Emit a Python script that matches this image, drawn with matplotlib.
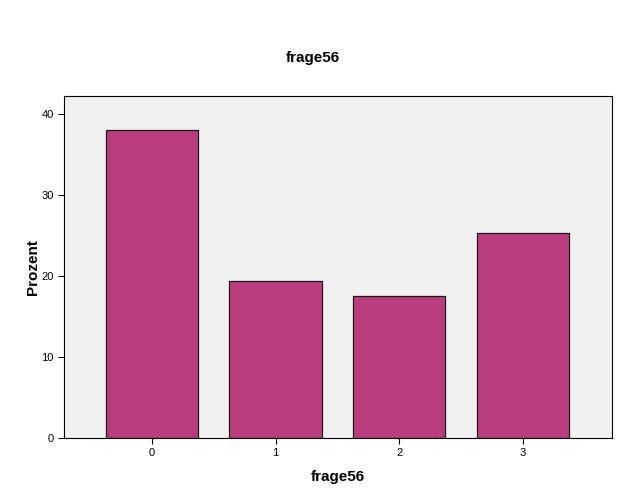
import matplotlib
matplotlib.use("Agg")
import matplotlib.pyplot as plt

plt.rcParams["font.family"] = ["Liberation Sans", "DejaVu Sans"]

categories = ["0", "1", "2", "3"]
percent = [38.0, 19.4, 17.5, 25.3]

fig = plt.figure(figsize=(6.25, 5.0), dpi=100)
ax = fig.add_axes([0.1024, 0.124, 0.8768, 0.684])
ax.set_facecolor("#F0F0F0")

x = range(len(categories))
ax.bar(x, percent, width=0.745, color="#BA3E7D", edgecolor="#1a1a1a", linewidth=0.9)

ax.set_xlim(-0.71, 3.72)
ax.set_ylim(0, 42.2)
ax.set_xticks(list(x))
ax.set_xticklabels(categories)
ax.set_yticks([0, 10, 20, 30, 40])
ax.tick_params(axis="both", labelsize=8, direction="out", length=4, width=0.8)
ax.tick_params(top=False, right=False)
for side in ax.spines.values():
    side.set_color("black")
    side.set_linewidth(0.8)

ax.set_xlabel("frage56", fontsize=11, fontweight="bold", labelpad=8)
ax.set_ylabel("Prozent", fontsize=11, fontweight="bold", labelpad=1)
fig.text(0.5, 0.884, "frage56", ha="center", va="center", fontsize=11, fontweight="bold")

fig.savefig("out.png", dpi=100)
